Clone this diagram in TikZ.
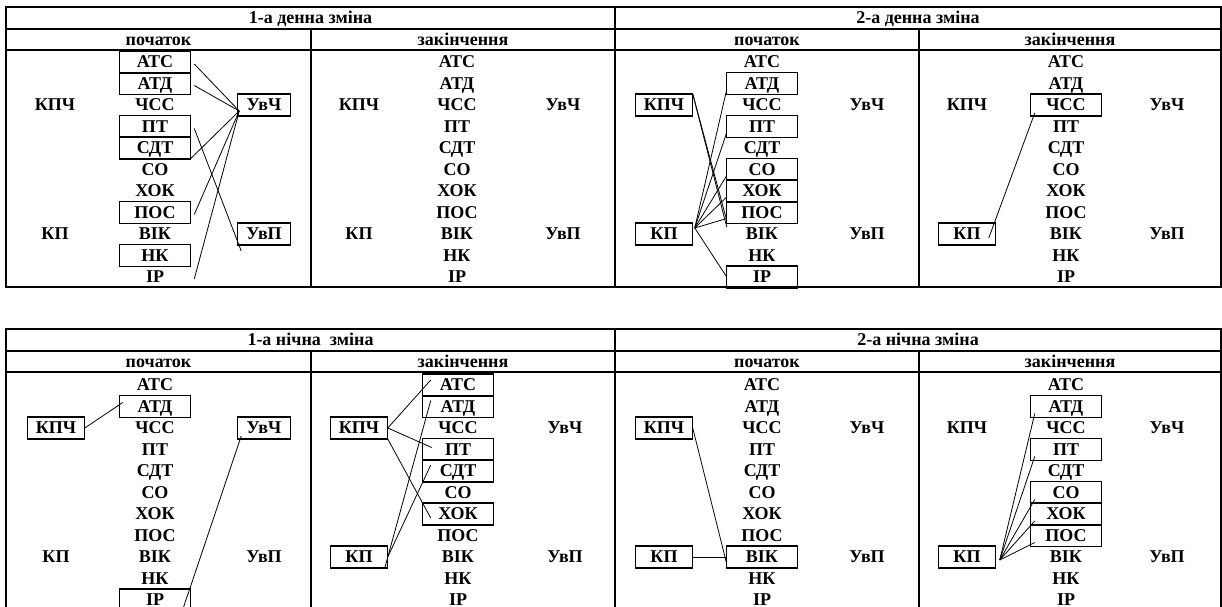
\documentclass[tikz,border=0pt]{standalone}
\usepackage{fontspec}
\setmainfont{Liberation Serif}
\usetikzlibrary{calc}

% one panel: prefix, x of left labels, x of items, x of right labels, y of first row
\newcommand{\panelnodes}[5]{%
  \node[side]  (#1-kpch) at (#2,#5+43)  {КПЧ};
  \node[side]  (#1-kp)   at (#2,#5+172) {КП};
  \node[rside] (#1-uvch) at (#4,#5+43)  {УвЧ};
  \node[rside] (#1-uvp)  at (#4,#5+172) {УвП};
  \foreach \lab [count=\i] in {АТС,АТД,ЧСС,ПТ,СДТ,СО,ХОК,ПОС,ВІК,НК,ІР}
    \node[item] (#1-\i) at (#3,#5+\i*21.5-21.5) {\lab};
}

\begin{document}
\begin{tikzpicture}[x=0.75pt, y=-0.75pt,
  font=\fontsize{13.5pt}{15pt}\selectfont\bfseries,
  head/.style={inner sep=0pt, text height=11pt, text depth=2.5pt},
  item/.style={head, minimum width=52.5pt, minimum height=16.1pt},
  side/.style={item, minimum width=42.75pt},
  rside/.style={item, minimum width=39.75pt},
  frame/.style={line width=1.1pt},
  boxline/.style={line width=0.9pt},
  link/.style={line width=0.6pt},
]
  \useasboundingbox (0,0) rectangle (1222,607);
  \clip (0,0) rectangle (1222,607);

  % tables
  \foreach \y in {7,329} {
    \draw[frame] (6,\y) rectangle (1221,\y+280);
    \draw[frame] (6,\y+22) -- (1221,\y+22);
    \draw[frame] (6,\y+43) -- (1221,\y+43);
    \draw[frame] (615,\y) -- (615,\y+280);
    \draw[frame] (311,\y+22) -- (311,\y+280);
    \draw[frame] (919,\y+22) -- (919,\y+280);
  }
  \node[head] (hd1) at (310.5,18) {1-а денна зміна};
  \node[head] (hd2) at (918,18) {2-а денна зміна};
  \node[head] (hn1) at (310.5,340) {1-а нічна\ \ зміна};
  \node[head] (hn2) at (918,340) {2-а нічна зміна};
  \foreach \y in {39.5,361.5}
    \foreach \x/\txt in {158.5/початок, 463/закінчення, 767/початок, 1070/закінчення}
      \node[head] at (\x,\y) {\txt};

  \panelnodes{a}{55}{155}{264}{62}
  \panelnodes{b}{359}{457}{563}{62}
  \panelnodes{c}{664}{762}{867}{62}
  \panelnodes{d}{967}{1066}{1167}{62}
  \panelnodes{e}{56}{155}{264}{385}
  \panelnodes{f}{359}{458}{565}{385}
  \panelnodes{g}{664}{762}{867}{385}
  \panelnodes{h}{967}{1066}{1167}{385}

  % boxes
  \foreach \n in {a-1,a-2,a-4,a-5,a-8,a-10,a-uvch,a-uvp,
                  c-2,c-4,c-6,c-7,c-8,c-11,c-kpch,c-kp,
                  d-3,d-kp,
                  e-2,e-11,e-kpch,e-uvch,
                  f-1,f-2,f-4,f-5,f-7,f-kpch,f-kp,
                  g-9,g-kpch,g-kp,
                  h-2,h-4,h-6,h-7,h-8,h-kp}
    \draw[boxline] (\n.north west) rectangle (\n.south east);

  % 1-а денна, початок
  \coordinate (a-hub) at ($(a-uvch.south west)+(2,-5)$);
  \foreach \i in {1,2,8,11} \draw[link] ($(a-\i.east)+(4,2)$) -- (a-hub);
  \draw[link] (a-5.south east) -- (a-hub);
  \draw[link] ($(a-4.east)+(4,2)$) -- ($(a-uvp.south west)+(4,6)$);

  % 2-а денна, початок
  \coordinate (c-hub) at ($(c-kp.north east)+(2,5)$);
  \foreach \i in {2,4,6,7,8} \draw[link] (c-hub) -- ($(c-\i.south west)+(0,-5)$);
  \draw[link] (c-hub) -- (c-11.west);
  \draw[link] (c-kpch.north east) -- ($(c-8.south west)+(0,-3)$);
  \draw[link] (c-kpch.north east) -- ($(c-9.north west)+(0,4)$);

  % 2-а денна, закінчення
  \draw[link] ($(d-kp.east)+(-7,4)$) -- ($(d-3.south west)+(4,-3)$);

  % 1-а нічна, початок
  \draw[link] (e-kpch.east) -- ($(e-2.west)+(3,-4)$);
  \draw[link] ($(e-uvch.south west)+(4,-3)$) -- ($(e-11.south east)+(-8,0)$);

  % 1-а нічна, закінчення
  \draw[link] (f-kpch.east) -- ($(f-1.west)+(8,-5)$);
  \draw[link] (f-kpch.east) -- ($(f-4.west)+(9,-2)$);
  \draw[link] (f-kpch.south east) -- ($(f-7.west)+(8,4)$);
  \draw[link] ($(f-kp.south east)+(-3,0)$) -- ($(f-2.west)+(8,-6)$);
  \draw[link] (f-kp.east) -- ($(f-5.west)+(8,-6)$);

  % 2-а нічна, початок
  \draw[link] (g-kpch.east) -- ($(g-9.south west)+(0,-4)$);
  \draw[link] (g-kp.east) -- (g-9.west);

  % 2-а нічна, закінчення
  \coordinate (h-hub) at ($(h-kp.east)+(4,3)$);
  \foreach \i in {2,4,6,7,8} \draw[link] (h-hub) -- ($(h-\i.south west)+(4,-4)$);
\end{tikzpicture}
\end{document}
